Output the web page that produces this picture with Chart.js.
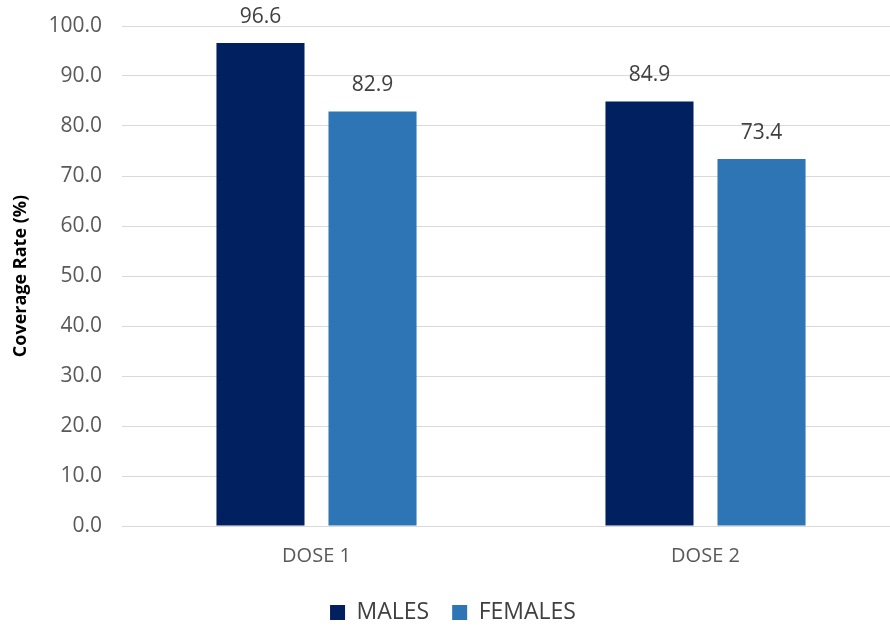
<!DOCTYPE html>
<html>
<head>
<meta charset="utf-8">
<script src="https://cdn.jsdelivr.net/npm/chart.js@4"></script>
<style>
  html, body { margin: 0; padding: 0; background: #fff; overflow: hidden; }
  #wrap { width: 890px; height: 626px; overflow: hidden; }
</style>
</head>
<body>
<div id="wrap"><canvas id="myChart" width="900" height="626"></canvas></div>
<script>
var doses = ['DOSE 1', 'DOSE 2'];
var males = [96.6, 84.9];
var females = [82.9, 73.4];
var yTicks = [0, 10, 20, 30, 40, 50, 60, 70, 80, 90, 100];

// draws the value above each bar
var valueLabels = {
  id: 'valueLabels',
  afterDatasetsDraw: function(chart) {
    var ctx = chart.ctx;
    ctx.save();
    ctx.font = "21px 'Open Sans', sans-serif";
    ctx.fillStyle = '#404040';
    ctx.textAlign = 'center';
    ctx.textBaseline = 'middle';
    chart.data.datasets.forEach(function(ds, i) {
      chart.getDatasetMeta(i).data.forEach(function(bar, j) {
        ctx.fillText(ds.data[j].toFixed(1), bar.x, bar.y - 26);
      });
    });
    ctx.restore();
  }
};

var ctx = document.getElementById('myChart');
var myChart = new Chart(ctx, {
  type: 'bar',
  data: {
    labels: doses,
    datasets: [{
      label: 'MALES',
      data: males,
      backgroundColor: '#002060'
    }, {
      label: 'FEMALES',
      data: females,
      backgroundColor: '#2E75B6'
    }]
  },
  options: {
    responsive: false,
    animation: false,
    layout: { autoPadding: false, padding: { top: 26, right: 0, left: 6, bottom: -8 } },
    datasets: {
      bar: { categoryPercentage: 0.576, barPercentage: 0.786 }
    },
    scales: {
      x: {
        grid: { display: false },
        border: { color: '#d9d9d9', width: 1 },
        afterFit: function(s) { s.height = 52; },
        ticks: {
          color: '#595959',
          font: { family: "'Open Sans', sans-serif", size: 20 },
          padding: 10
        }
      },
      y: {
        min: 0,
        max: 100,
        afterBuildTicks: function(axis) {
          axis.ticks = yTicks.map(function(v) { return { value: v }; });
        },
        afterFit: function(s) {
          s.width = 116;
          s.paddingTop = 0;
          s.paddingBottom = 0;
        },
        grid: { color: '#d9d9d9', drawTicks: false, lineWidth: 1 },
        border: { display: false },
        ticks: {
          color: '#595959',
          font: { family: "'Open Sans', sans-serif", size: 21 },
          padding: 20,
          callback: function(v) { return v.toFixed(1); }
        },
        title: {
          display: true,
          text: 'Coverage Rate (%)',
          color: '#000000',
          font: { family: "'Open Sans', sans-serif", size: 18, weight: 'bold' },
          padding: { top: 4, bottom: 0 }
        }
      }
    },
    plugins: {
      legend: {
        position: 'bottom',
        onClick: null,
        labels: {
          color: '#404040',
          boxWidth: 15,
          boxHeight: 15,
          padding: 23,
          font: { family: "'Open Sans', sans-serif", size: 23 }
        }
      },
      tooltip: { enabled: false }
    }
  },
  plugins: [valueLabels]
});
</script>
</body>
</html>
